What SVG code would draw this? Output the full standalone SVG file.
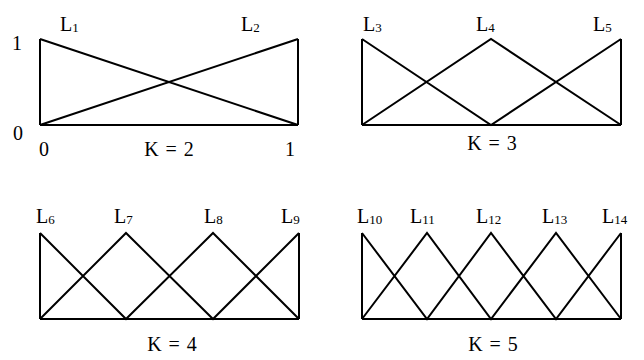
<svg xmlns="http://www.w3.org/2000/svg" width="644" height="360" viewBox="0 0 644 360">
<style>
text{font-family:'Liberation Serif','Times New Roman','DejaVu Serif',serif;fill:#000}
.t{font-size:20px}
.k{word-spacing:2px}
.s{font-size:13px}
.ln{stroke:#000;stroke-width:2;fill:none;stroke-linejoin:miter}
</style>
<rect width="644" height="360" fill="#fff"/>
<g id="connectors">
<g id="k2">
<path class="ln" d="M40,125 H298 M40,39 V125 M298,39 V125 M40,39 L298,125 M40,125 L298,39"/>
</g>
<g id="k3">
<path class="ln" d="M362,125 H621 M362,39 V125 M621,39 V125 M362,39 L491,125 L621,39 M362,125 L491,39 L621,125"/>
</g>
<g id="k4">
<path class="ln" d="M40,319 H299 M40,233 V319 M299,233 V319 M40,233 L126,319 L213,233 L299,319 M40,319 L126,233 L213,319 L299,233"/>
</g>
<g id="k5">
<path class="ln" d="M362,319 H621 M362,233 V319 M621,233 V319 M362,233 L427,319 L491,233 L556,319 L621,233 M362,319 L427,233 L491,319 L556,233 L621,319"/>
</g>
</g>
<g id="labels">
<text class="t" x="12" y="50">1</text>
<text class="t" x="13" y="140">0</text>
<text class="t" x="39" y="156">0</text>
<text class="t k" x="169" y="156" text-anchor="middle">K = 2</text>
<text class="t" x="285" y="156">1</text>
<text class="t k" x="492" y="150" text-anchor="middle">K = 3</text>
<text class="t k" x="172" y="351" text-anchor="middle">K = 4</text>
<text class="t k" x="493" y="351" text-anchor="middle">K = 5</text>
<text class="t" x="60" y="31">L<tspan class="s" dy="1">1</tspan></text>
<text class="t" x="241" y="31">L<tspan class="s" dy="1">2</tspan></text>
<text class="t" x="363" y="31">L<tspan class="s" dy="1">3</tspan></text>
<text class="t" x="476" y="31">L<tspan class="s" dy="1">4</tspan></text>
<text class="t" x="593" y="31">L<tspan class="s" dy="1">5</tspan></text>
<text class="t" x="36" y="223">L<tspan class="s" dy="1">6</tspan></text>
<text class="t" x="114" y="223">L<tspan class="s" dy="1">7</tspan></text>
<text class="t" x="204" y="223">L<tspan class="s" dy="1">8</tspan></text>
<text class="t" x="281" y="223">L<tspan class="s" dy="1">9</tspan></text>
<text class="t" x="357" y="223">L<tspan class="s" dy="1">10</tspan></text>
<text class="t" x="410" y="223">L<tspan class="s" dy="1">11</tspan></text>
<text class="t" x="476" y="223">L<tspan class="s" dy="1">12</tspan></text>
<text class="t" x="542" y="223">L<tspan class="s" dy="1">13</tspan></text>
<text class="t" x="602" y="223">L<tspan class="s" dy="1">14</tspan></text>
</g>
</svg>
